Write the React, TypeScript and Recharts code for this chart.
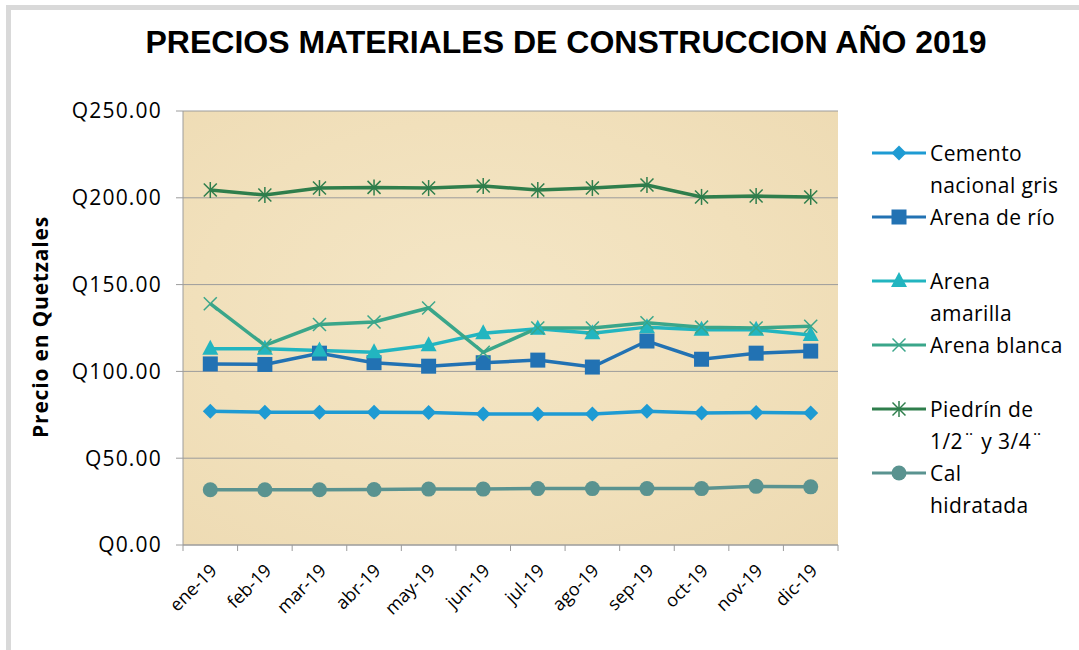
import React from 'react'
import { LineChart, Line, XAxis, YAxis, CartesianGrid } from 'recharts'

if (typeof document !== 'undefined') document.body.style.margin = '0'

const months = ['ene-19', 'feb-19', 'mar-19', 'abr-19', 'may-19', 'jun-19', 'jul-19', 'ago-19', 'sep-19', 'oct-19', 'nov-19', 'dic-19']
const cemento = [77, 76.5, 76.5, 76.5, 76.3, 75.5, 75.5, 75.5, 77, 76, 76.3, 76]
const arenaRio = [104.3, 104, 110.5, 105, 103, 105, 106.5, 102.5, 117.5, 107, 110.5, 111.7]
const arenaAmarilla = [113, 113, 112, 111, 115, 122, 124.5, 122, 125.5, 124, 124, 121]
const arenaBlanca = [139, 115, 127, 128.5, 136.5, 111, 125, 125, 128, 125.5, 125, 126]
const piedrin = [204.5, 201.6, 205.6, 206, 205.6, 206.8, 204.5, 205.6, 207.4, 200.5, 201, 200.5]
const cal = [31.8, 31.8, 31.8, 32, 32.2, 32.2, 32.5, 32.5, 32.5, 32.5, 33.8, 33.5]
const yTicks = [0, 50, 100, 150, 200, 250]

const SERIES = [
  { key: 'cemento', label: ['Cemento', 'nacional gris'], color: '#1E9BD3', marker: 'diamond', values: cemento },
  { key: 'arenaRio', label: ['Arena de río'], color: '#2272B3', marker: 'square', values: arenaRio },
  { key: 'arenaAmarilla', label: ['Arena', 'amarilla'], color: '#22B5C0', marker: 'triangle', values: arenaAmarilla },
  { key: 'arenaBlanca', label: ['Arena blanca'], color: '#3AA68A', marker: 'x', values: arenaBlanca },
  { key: 'piedrin', label: ['Piedrín de', '1/2¨ y 3/4¨'], color: '#2F7E4C', marker: 'star', values: piedrin },
  { key: 'cal', label: ['Cal', 'hidratada'], color: '#5A9390', marker: 'circle', values: cal },
]

// category i sits in the middle of slot [i, i+1]
const data = months.map((m, i) => {
  const row: Record<string, string | number> = { month: m, idx: i + 0.5 }
  SERIES.forEach((s) => {
    row[s.key] = s.values[i]
  })
  return row
})

const PLOT_W = 655
const SLOT = PLOT_W / months.length

function Marker({ cx, cy, type, color }: { cx: number; cy: number; type: string; color: string }) {
  if (cx == null || cy == null) return null
  switch (type) {
    case 'diamond':
      return <polygon points={`${cx},${cy - 7.5} ${cx + 7.5},${cy} ${cx},${cy + 7.5} ${cx - 7.5},${cy}`} fill={color} />
    case 'square':
      return <rect x={cx - 7.5} y={cy - 7.5} width={15} height={15} fill={color} />
    case 'triangle':
      return <polygon points={`${cx},${cy - 9} ${cx + 8},${cy + 6} ${cx - 8},${cy + 6}`} fill={color} />
    case 'x':
      return (
        <g stroke={color} strokeWidth={1.5}>
          <line x1={cx - 6.5} y1={cy - 6.5} x2={cx + 6.5} y2={cy + 6.5} />
          <line x1={cx - 6.5} y1={cy + 6.5} x2={cx + 6.5} y2={cy - 6.5} />
        </g>
      )
    case 'star':
      return (
        <g stroke={color} strokeWidth={1.5}>
          <line x1={cx - 6.5} y1={cy - 6.5} x2={cx + 6.5} y2={cy + 6.5} />
          <line x1={cx - 6.5} y1={cy + 6.5} x2={cx + 6.5} y2={cy - 6.5} />
          <line x1={cx} y1={cy - 8} x2={cx} y2={cy + 8} />
        </g>
      )
    default:
      return <circle cx={cx} cy={cy} r={7.5} fill={color} />
  }
}

function MonthTick({ x, y, payload }: any) {
  const label = months[payload.value]
  if (!label) return null
  const tx = x + SLOT / 2 - 3
  const ty = y + 8
  return (
    <text
      x={tx}
      y={ty}
      transform={`rotate(-45 ${tx} ${ty})`}
      textAnchor="end"
      dominantBaseline="hanging"
      fontFamily="Open Sans, sans-serif"
      fontSize={18}
      fill="#000"
    >
      {label}
    </text>
  )
}

function LegendBox() {
  return (
    <div style={{ fontFamily: 'Open Sans, sans-serif', fontSize: 21, letterSpacing: 0.4, color: '#000', lineHeight: '32px' }}>
      {SERIES.map((s) => (
        <div key={s.key} style={{ display: 'flex', height: 64, alignItems: 'flex-start' }}>
          <svg width={60} height={32} style={{ flex: 'none' }}>
            <line x1={2} y1={16} x2={56} y2={16} stroke={s.color} strokeWidth={3} />
            <Marker cx={29} cy={16} type={s.marker} color={s.color} />
          </svg>
          <div style={{ whiteSpace: 'nowrap' }}>
            {s.label.map((l) => (
              <div key={l}>{l}</div>
            ))}
          </div>
        </div>
      ))}
    </div>
  )
}

export default function App() {
  return (
    <div style={{ position: 'relative', width: 1079, height: 650, background: '#fff', overflow: 'hidden' }}>
      <div
        style={{
          position: 'absolute',
          left: 6,
          top: 5,
          width: 1090,
          height: 640,
          borderLeft: '5px solid #D9D9D9',
          borderTop: '5px solid #D9D9D9',
          borderBottom: '1px solid #EEEEEE',
        }}
      />
      <div
        style={{
          position: 'absolute',
          left: 0,
          width: 1132,
          top: 24,
          textAlign: 'center',
          fontFamily: 'Liberation Sans, Arial, sans-serif',
          fontWeight: 'bold',
          fontSize: 32,
          color: '#000',
        }}
      >
        PRECIOS MATERIALES DE CONSTRUCCION AÑO 2019
      </div>
      <div
        style={{
          position: 'absolute',
          left: 40,
          top: 327,
          transform: 'translate(-50%, -50%) rotate(-90deg)',
          whiteSpace: 'nowrap',
          fontFamily: 'Open Sans, sans-serif',
          fontWeight: 'bold',
          fontSize: 21,
          letterSpacing: 0.8,
          color: '#000',
        }}
      >
        Precio en Quetzales
      </div>
      <div
        style={{
          position: 'absolute',
          left: 183,
          top: 111,
          width: PLOT_W,
          height: 434,
          background: 'radial-gradient(ellipse at 45% 45%, #F4E6C6 0%, #F1E0BB 55%, #EDDAB2 100%)',
        }}
      />
      <div style={{ position: 'absolute', left: 870, top: 137, width: 209 }}>
        <LegendBox />
      </div>
      <div style={{ position: 'absolute', left: 0, top: 0 }}>
        <LineChart width={1079} height={650} data={data} margin={{ top: 111, right: 241, left: 0, bottom: 0 }}>
          <CartesianGrid horizontal vertical={false} stroke="#9C9C9C" strokeWidth={1} />
          <XAxis
            type="number"
            dataKey="idx"
            domain={[0, 12]}
            ticks={[0, 1, 2, 3, 4, 5, 6, 7, 8, 9, 10, 11, 12]}
            interval={0}
            tick={<MonthTick />}
            tickSize={6}
            height={105}
            stroke="#9C9C9C"
          />
          <YAxis
            domain={[0, 250]}
            ticks={yTicks}
            width={183}
            tickSize={7}
            stroke="#9C9C9C"
            tick={{ fontFamily: 'Open Sans, sans-serif', fontSize: 21, fill: '#000', letterSpacing: 1.2 }}
            tickFormatter={(v: number) => `Q${v.toFixed(2)}`}
            dx={-12}
          />
          {SERIES.map((s) => (
            <Line
              key={s.key}
              dataKey={s.key}
              stroke={s.color}
              strokeWidth={3.5}
              isAnimationActive={false}
              dot={(p: any) => <Marker key={`${s.key}-${p.index}`} cx={p.cx} cy={p.cy} type={s.marker} color={s.color} />}
              activeDot={false}
              legendType="none"
            />
          ))}
        </LineChart>
      </div>
    </div>
  )
}
